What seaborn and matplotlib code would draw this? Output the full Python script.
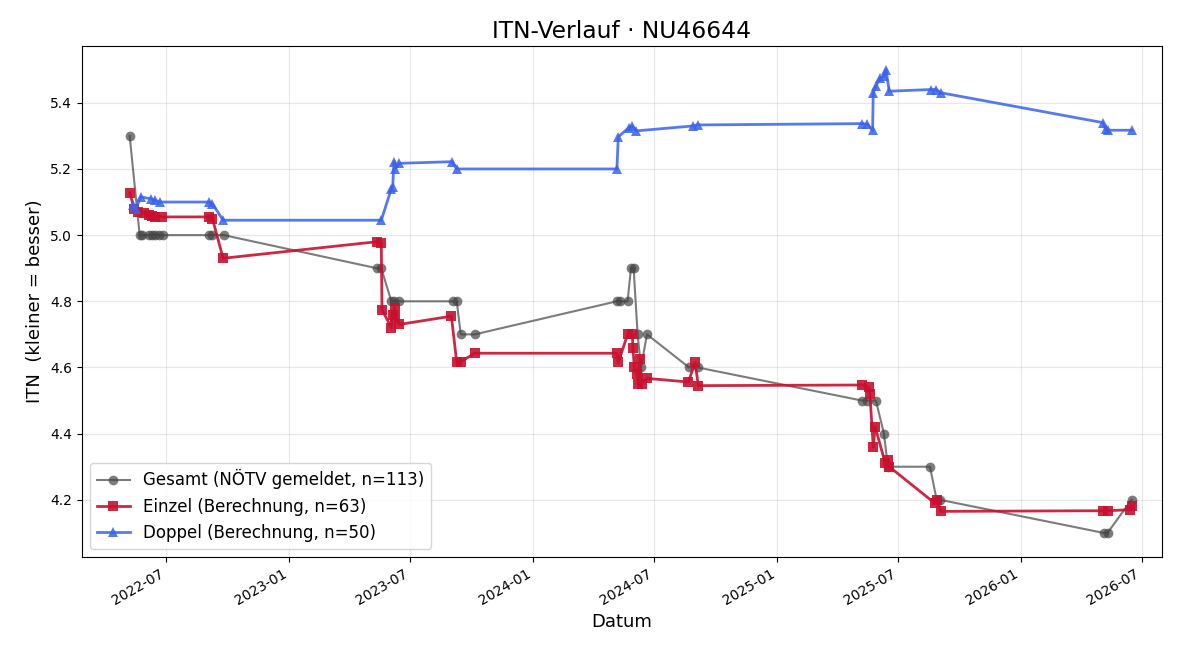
import matplotlib
matplotlib.use("Agg")
import matplotlib.pyplot as plt
import matplotlib.dates as mdates
import seaborn as sns
import pandas as pd

# values
gesamt_dates = ['2022-05-07', '2022-05-22', '2022-05-25', '2022-06-05', '2022-06-10', '2022-06-14',
                '2022-06-20', '2022-06-26', '2022-09-03', '2022-09-08', '2022-09-25', '2023-05-12',
                '2023-05-19', '2023-06-03', '2023-06-07', '2023-06-15', '2023-09-03', '2023-09-09',
                '2023-09-15', '2023-10-06', '2024-05-06', '2024-05-10', '2024-05-22', '2024-05-27',
                '2024-05-31', '2024-06-06', '2024-06-11', '2024-06-20', '2024-08-22', '2024-09-04',
                '2025-05-08', '2025-05-16', '2025-05-29', '2025-06-10', '2025-06-16', '2025-08-18',
                '2025-08-28', '2025-09-02', '2026-05-05', '2026-05-11', '2026-06-16']
gesamt_itn = [5.30, 5.00, 5.00, 5.00, 5.00, 5.00,
              5.00, 5.00, 5.00, 5.00, 5.00, 4.90,
              4.90, 4.80, 4.80, 4.80, 4.80, 4.80,
              4.70, 4.70, 4.80, 4.80, 4.80, 4.90,
              4.90, 4.70, 4.60, 4.70, 4.60, 4.60,
              4.50, 4.50, 4.50, 4.40, 4.30, 4.30,
              4.20, 4.20, 4.10, 4.10, 4.20]

einzel_dates = ['2022-05-07', '2022-05-14', '2022-05-20', '2022-05-28', '2022-06-05', '2022-06-10',
                '2022-06-14', '2022-06-25', '2022-09-03', '2022-09-08', '2022-09-24', '2023-05-12',
                '2023-05-19', '2023-05-20', '2023-06-03', '2023-06-05', '2023-06-08', '2023-06-09',
                '2023-06-15', '2023-09-01', '2023-09-09', '2023-09-15', '2023-10-06', '2024-05-06',
                '2024-05-08', '2024-05-22', '2024-05-29', '2024-05-30', '2024-06-01', '2024-06-05',
                '2024-06-07', '2024-06-10', '2024-06-12', '2024-06-20', '2024-08-21', '2024-08-31',
                '2024-09-05', '2025-05-08', '2025-05-18', '2025-05-20', '2025-05-25', '2025-05-28',
                '2025-06-12', '2025-06-16', '2025-06-18', '2025-08-25', '2025-08-29', '2025-09-03',
                '2026-05-04', '2026-05-11', '2026-06-14', '2026-06-16']
einzel_itn = [5.128, 5.080, 5.070, 5.068, 5.060, 5.058,
              5.056, 5.055, 5.055, 5.050, 4.930, 4.980,
              4.975, 4.775, 4.720, 4.760, 4.780, 4.750,
              4.730, 4.755, 4.615, 4.617, 4.643, 4.643,
              4.615, 4.700, 4.700, 4.660, 4.600, 4.580,
              4.550, 4.625, 4.550, 4.567, 4.556, 4.615,
              4.545, 4.547, 4.540, 4.520, 4.360, 4.420,
              4.310, 4.320, 4.300, 4.190, 4.200, 4.165,
              4.167, 4.167, 4.170, 4.180]

doppel_dates = ['2022-05-12', '2022-05-16', '2022-05-24', '2022-06-08', '2022-06-14', '2022-06-22',
                '2022-09-03', '2022-09-08', '2022-09-24', '2023-05-19', '2023-06-03', '2023-06-05',
                '2023-06-07', '2023-06-09', '2023-06-15', '2023-09-02', '2023-09-09', '2024-05-06',
                '2024-05-08', '2024-05-24', '2024-05-29', '2024-06-04', '2024-08-28', '2024-09-04',
                '2025-05-08', '2025-05-16', '2025-05-24', '2025-05-25', '2025-05-29', '2025-06-04',
                '2025-06-10', '2025-06-13', '2025-06-18', '2025-08-19', '2025-08-27', '2025-09-04',
                '2026-05-04', '2026-05-08', '2026-05-12', '2026-06-16']
doppel_itn = [5.090, 5.080, 5.115, 5.110, 5.105, 5.100,
              5.100, 5.095, 5.045, 5.045, 5.140, 5.145,
              5.222, 5.200, 5.217, 5.222, 5.200, 5.200,
              5.297, 5.325, 5.330, 5.315, 5.330, 5.333,
              5.337, 5.335, 5.317, 5.430, 5.450, 5.475,
              5.480, 5.500, 5.435, 5.440, 5.440, 5.430,
              5.340, 5.320, 5.317, 5.317]

fig, ax = plt.subplots(figsize=(12, 6.6), dpi=100)

sns.lineplot(x=pd.to_datetime(gesamt_dates), y=gesamt_itn, ax=ax, sort=False,
             color='#444444', alpha=0.7, linewidth=1.5, marker='o', markersize=7,
             markeredgewidth=0, label='Gesamt (NÖTV gemeldet, n=113)')
sns.lineplot(x=pd.to_datetime(einzel_dates), y=einzel_itn, ax=ax, sort=False,
             color='#c8102e', alpha=0.9, linewidth=2, marker='s', markersize=7,
             markeredgewidth=0, label='Einzel (Berechnung, n=63)')
sns.lineplot(x=pd.to_datetime(doppel_dates), y=doppel_itn, ax=ax, sort=False,
             color='#3a62ee', alpha=0.85, linewidth=2, marker='^', markersize=7,
             markeredgewidth=0, label='Doppel (Berechnung, n=50)')

ax.set_title('ITN-Verlauf · NU46644', fontsize=16.8)
ax.set_xlabel('Datum', fontsize=13)
ax.set_ylabel('ITN  (kleiner = besser)', fontsize=13)
ax.grid(True, alpha=0.3)
ax.xaxis.set_major_locator(mdates.MonthLocator(bymonth=[1, 7]))
ax.xaxis.set_major_formatter(mdates.DateFormatter('%Y-%m'))
ax.set_xlim(pd.Timestamp('2022-02-24'), pd.Timestamp('2026-07-31'))
ax.set_ylim(4.027, 5.571)
ax.legend(loc='lower left', fontsize=12)
fig.autofmt_xdate()

fig.subplots_adjust(left=0.068, right=0.968, top=0.93, bottom=0.156)
plt.savefig('out.png', dpi=100)
